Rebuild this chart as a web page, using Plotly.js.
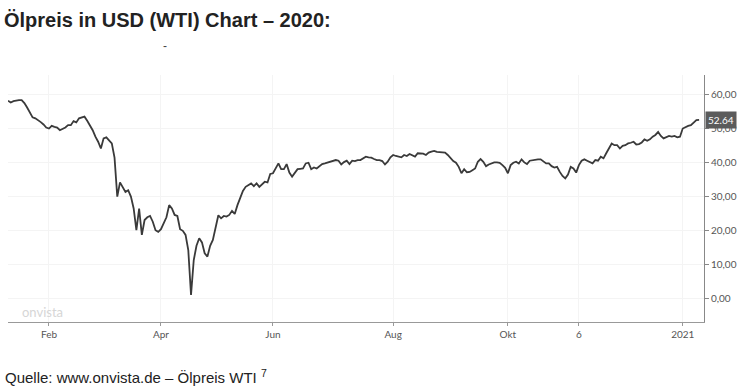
<!DOCTYPE html>
<html>
<head>
<meta charset="utf-8">
<script src="https://cdn.plot.ly/plotly-3.0.1.min.js"></script>
<style>html,body{margin:0;padding:0;background:#fff}#chart{width:750px;height:390px}</style>
</head>
<body>
<div id="chart"></div>
<script>
// Trading days (month, days)
const tradingDays = [
  ['2020-01', [10,13,14,15,16,17,21,22,23,24,27,28,29,30,31]],
  ['2020-02', [3,4,5,6,7,10,11,12,13,14,18,19,20,21,24,25,26,27,28]],
  ['2020-03', [2,3,4,5,6,9,10,11,12,13,16,17,18,19,20,23,24,25,26,27,30,31]],
  ['2020-04', [1,2,3,6,7,8,9,13,14,15,16,17,20,21,22,23,24,27,28,29,30]],
  ['2020-05', [1,4,5,6,7,8,11,12,13,14,15,18,19,20,21,22,26,27,28,29]],
  ['2020-06', [1,2,3,4,5,8,9,10,11,12,15,16,17,18,19,22,23,24,25,26,29,30]],
  ['2020-07', [1,2,6,7,8,9,10,13,14,15,16,17,20,21,22,23,24,27,28,29,30,31]],
  ['2020-08', [3,4,5,6,7,10,11,12,13,14,17,18,19,20,21,24,25,26,27,28,31]],
  ['2020-09', [1,2,3,4,8,9,10,11,14,15,16,17,18,21,22,23,24,25,28,29,30]],
  ['2020-10', [1,2,5,6,7,8,9,12,13,14,15,16,19,20,21,22,23,26,27,28,29,30]],
  ['2020-11', [2,3,4,5,6,9,10,11,12,13,16,17,18,19,20,23,24,25,27,30]],
  ['2020-12', [1,2,3,4,7,8,9,10,11,14,15,16,17,18,21,22,23,24,28,29,30,31]],
  ['2021-01', [4,5,6,7,8,11,12]]
];
const holidays = ['2020-01-20','2020-02-17','2020-04-10','2020-05-25','2020-07-03','2020-09-07','2020-11-26','2020-12-25','2021-01-01'];

// WTI price (USD), one value per trading day
const wtiClose = [
  58.3,57.8,58.2,58.4,58.5,58.5,57.6,56.3,54.6,53.4,53.1,52.6,52.0,51.3,50.4,
  50.1,50.9,50.6,50.4,49.6,50.0,50.4,51.1,51.1,52.3,51.9,53.1,53.4,53.6,52.4,51.0,49.6,47.7,46.2,
  44.2,47.2,47.5,46.5,45.7,41.5,30.0,34.2,32.9,31.4,31.9,30.0,26.5,20.1,26.5,18.7,23.1,23.9,24.3,22.6,20.1,19.6,
  20.4,22.0,23.9,27.5,26.5,24.6,24.3,20.4,19.9,18.7,14.2,1.0,11.3,15.5,17.7,16.5,13.3,12.3,15.5,17.2,21.1,
  24.5,23.6,24.3,24.1,24.6,25.8,24.9,27.5,29.8,31.7,32.9,33.4,33.9,33.1,33.9,32.9,33.6,34.4,34.2,36.7,
  36.9,38.3,39.8,38.1,38.1,39.6,37.1,35.9,36.9,38.1,38.2,38.3,39.8,40.0,38.1,38.6,38.3,39.0,39.6,39.8,40.0,40.3,
  40.6,40.8,40.6,39.5,40.2,40.6,39.6,40.6,40.5,40.8,40.8,41.2,41.8,41.6,41.5,41.1,40.8,40.8,40.5,39.5,40.3,41.6,
  42.3,42.0,41.8,41.6,42.3,42.0,42.6,42.2,41.8,42.8,42.8,42.7,42.3,43.0,43.3,43.5,43.2,43.1,43.0,43.0,42.3,
  41.3,40.5,40.0,38.8,36.9,38.1,37.2,37.3,37.8,38.3,40.3,41.1,40.3,39.0,39.5,39.8,40.1,40.1,40.0,39.3,38.5,
  36.9,39.3,40.0,40.3,39.8,41.0,40.1,39.6,40.6,40.8,41.0,41.0,41.0,40.5,39.8,39.8,39.0,38.6,38.8,37.3,36.1,35.4,
  36.5,38.8,38.3,37.1,39.3,40.6,41.0,40.6,40.3,39.8,40.8,40.6,41.8,41.3,42.8,44.2,45.7,45.2,45.2,44.2,
  45.0,45.2,45.7,45.9,46.2,45.4,45.5,46.0,46.9,46.5,46.9,47.7,48.2,49.1,47.9,47.2,47.6,47.9,47.7,47.9,47.5,47.7,
  50.1,50.6,50.9,51.1,51.8,52.6,52.64
];

const xTickVals = ['2020-02-03','2020-04-01','2020-06-01','2020-08-03','2020-10-01','2020-11-06','2021-01-04'];
const xTickText = ['Feb','Apr','Jun','Aug','Okt','6','2021'];
const yTickVals = [0,10,20,30,40,50,60];
const lastPrice = '52.64';

const dates = [];
tradingDays.forEach(([m, ds]) => ds.forEach(d => dates.push(m + '-' + String(d).padStart(2,'0'))));

const trace = {
  x: dates, y: wtiClose, type: 'scatter', mode: 'lines',
  line: {color: '#3a3a3a', width: 1.8}, hoverinfo: 'skip'
};

const tickFont = {family: 'Lato, sans-serif', size: 10, color: '#555'};

const layout = {
  width: 750, height: 390,
  margin: {l: 8, r: 46, t: 75, b: 68},
  paper_bgcolor: '#fff', plot_bgcolor: '#fff',
  separators: ',.',
  showlegend: false,
  title: {
    text: '<b>Ölpreis in USD (WTI) Chart – 2020:</b>',
    x: 4/750, xref: 'container', xanchor: 'left',
    y: 1 - 20/390, yref: 'container', yanchor: 'middle',
    font: {family: 'Liberation Sans, Arial, sans-serif', size: 20, color: '#222'}
  },
  xaxis: {
    type: 'date',
    range: ['2020-01-10', '2021-01-13 19:00'],
    rangebreaks: [{bounds: ['sat', 'mon']}, {values: holidays}],
    tickmode: 'array', tickvals: xTickVals, ticktext: xTickText,
    tickfont: tickFont,
    showline: true, linecolor: '#999', linewidth: 1,
    ticks: 'outside', ticklen: 3, tickcolor: '#999',
    showgrid: true, gridcolor: '#f4f4f4',
    zeroline: false, fixedrange: true
  },
  yaxis: {
    side: 'right',
    range: [-7, 65.9],
    tickmode: 'array', tickvals: yTickVals, tickformat: '.2f',
    tickfont: tickFont,
    showline: true, linecolor: '#888', linewidth: 1,
    ticks: 'outside', ticklen: 4, tickcolor: '#888',
    showgrid: true, gridcolor: '#f4f4f4',
    zeroline: false, fixedrange: true
  },
  annotations: [
    {
      xref: 'paper', x: 1, xanchor: 'left', xshift: 1,
      yref: 'y', y: 52.64, yanchor: 'middle',
      text: lastPrice, showarrow: false,
      bgcolor: '#5b5b5b', borderpad: 2,
      font: {family: 'Lato, sans-serif', size: 10, color: '#fff'}
    },
    {
      xref: 'paper', x: (42 - 8) / 696, xanchor: 'center',
      yref: 'paper', y: (322 - 312) / 247, yanchor: 'middle',
      text: 'onvista', showarrow: false,
      font: {family: 'Lato, sans-serif', size: 13, color: '#d6d6d6'}
    },
    {
      xref: 'paper', x: (165 - 8) / 696, xanchor: 'center',
      yref: 'paper', y: (322 - 46) / 247, yanchor: 'middle',
      text: '-', showarrow: false,
      font: {family: 'Liberation Sans, Arial, sans-serif', size: 12, color: '#444'}
    },
    {
      xref: 'paper', x: (3 - 8) / 696, xanchor: 'left',
      yref: 'paper', y: (322 - 376) / 247, yanchor: 'middle',
      text: 'Quelle: www.onvista.de – Ölpreis WTI <sup>7</sup>', showarrow: false,
      font: {family: 'Liberation Sans, Arial, sans-serif', size: 15, color: '#222'}
    }
  ]
};

Plotly.newPlot('chart', [trace], layout, {staticPlot: true, displayModeBar: false});
</script>
</body>
</html>
